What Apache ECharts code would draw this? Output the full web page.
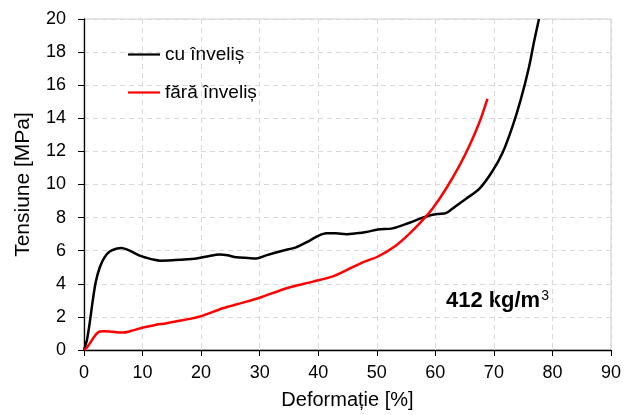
<!DOCTYPE html>
<html>
<head>
<meta charset="utf-8">
<script src="https://cdn.jsdelivr.net/npm/echarts@6/dist/echarts.min.js"></script>
<style>
  html, body { margin: 0; padding: 0; background: #fff; }
  #chart { width: 624px; height: 415px; }
</style>
</head>
<body>
<div id="chart"></div>
<script>
// Stress–strain curves, specimens of 412 kg/m³
const seriesNames = ['cu înveliș', 'fără înveliș'];

// [deformation %, stress MPa]
const cuInvelis = [
  [0, 0], [0.5, 0.6], [1, 1.7], [1.5, 3.0], [2, 4.1], [2.7, 5.0], [3.5, 5.6],
  [4.4, 5.95], [5.5, 6.12], [6.4, 6.17], [7.5, 6.05], [8.4, 5.9], [9.5, 5.7],
  [10.7, 5.57], [12, 5.45], [13, 5.4], [15, 5.42], [16.4, 5.45], [19.2, 5.53],
  [21, 5.65], [23.2, 5.77], [24.5, 5.72], [26, 5.6], [28, 5.56], [29.4, 5.53],
  [31.1, 5.72], [33.9, 6.0], [36.2, 6.2], [38.5, 6.6], [40, 6.9], [41.4, 7.05],
  [43, 7.05], [44.8, 7.0], [46.5, 7.05], [48.2, 7.13], [50.2, 7.28], [52.7, 7.35],
  [55.6, 7.69], [57.5, 7.95], [59, 8.13], [60.5, 8.22], [61.8, 8.27], [62.9, 8.53],
  [65.2, 9.13], [67.5, 9.73], [69.8, 10.83], [71.5, 11.93], [73.2, 13.53],
  [74.6, 15.14], [76, 17.1], [76.9, 18.7], [77.7, 20.0]
];

const faraInvelis = [
  [0, 0], [0.5, 0.15], [1, 0.4], [1.6, 0.72], [2.2, 1.0], [2.7, 1.12], [3.5, 1.14],
  [4.4, 1.12], [5.5, 1.07], [6.7, 1.05], [8, 1.15], [10.1, 1.36], [12, 1.5],
  [14.1, 1.62], [16, 1.75], [18.1, 1.88], [20.3, 2.08], [23.7, 2.52], [27, 2.85],
  [30, 3.16], [34.5, 3.72], [39.1, 4.13], [42.5, 4.45], [45, 4.85], [47.6, 5.3],
  [50.2, 5.65], [53.3, 6.32], [55.6, 7.03], [57.8, 7.83], [59.5, 8.53],
  [61.8, 9.73], [64.1, 11.13], [65.8, 12.33], [67.5, 13.73], [68.9, 15.18]
];

const xAxisRange = { min: 0, max: 90, interval: 10 };
const yAxisRange = { min: 0, max: 20, interval: 2 };
const densityLabel = '412 kg/m';

const font = 'Liberation Sans, Arial, sans-serif';
const chart = echarts.init(document.getElementById('chart'), null, { renderer: 'canvas' });

const gridLine = { show: true, lineStyle: { color: '#d9d9d9', type: [5, 4], width: 1 } };

chart.setOption({
  animation: false,
  backgroundColor: '#fff',
  textStyle: { fontFamily: font },
  grid: {
    left: 84, right: 12, top: 19, bottom: 63,
    show: true, borderColor: '#d0d0d0', borderWidth: 1, backgroundColor: 'transparent'
  },
  legend: {
    orient: 'vertical',
    left: 123, top: 40,
    icon: 'rect',
    itemWidth: 32, itemHeight: 2.2, itemGap: 19,
    data: seriesNames,
    textStyle: { fontFamily: font, fontSize: 19, color: '#000', lineHeight: 19 }
  },
  xAxis: {
    type: 'value',
    min: xAxisRange.min, max: xAxisRange.max, interval: xAxisRange.interval,
    name: 'Deformație [%]', nameLocation: 'middle', nameGap: 40,
    nameTextStyle: { fontFamily: font, fontSize: 20, color: '#000' },
    axisLine: { show: true, onZero: false, lineStyle: { color: '#000', width: 1.3 } },
    axisTick: { show: true, length: 6, lineStyle: { color: '#000' } },
    axisLabel: { margin: 14, fontSize: 18, color: '#000', fontFamily: font },
    splitLine: gridLine
  },
  yAxis: {
    type: 'value',
    min: yAxisRange.min, max: yAxisRange.max, interval: yAxisRange.interval,
    name: 'Tensiune [MPa]', nameLocation: 'middle', nameGap: 50,
    nameTextStyle: { fontFamily: font, fontSize: 21, color: '#000' },
    axisLine: { show: true, onZero: false, lineStyle: { color: '#000', width: 1.3 } },
    axisTick: { show: true, length: 6, lineStyle: { color: '#000' } },
    axisLabel: { margin: 18, fontSize: 18, color: '#000', fontFamily: font },
    splitLine: gridLine
  },
  series: [
    {
      name: seriesNames[0], type: 'line', data: cuInvelis,
      symbol: 'none', smooth: 0.3, clip: true,
      lineStyle: { color: '#000', width: 2.5 }, itemStyle: { color: '#000' }
    },
    {
      name: seriesNames[1], type: 'line', data: faraInvelis,
      symbol: 'none', smooth: 0.3, clip: true,
      lineStyle: { color: '#ff0000', width: 2.5 }, itemStyle: { color: '#ff0000' }
    }
  ],
  graphic: [
    {
      type: 'text', left: 446, top: 289,
      style: {
        text: '{a|' + densityLabel + '}{s|3}',
        rich: {
          a: { fontFamily: font, fontSize: 22, fontWeight: 'bold', fill: '#000' },
          s: { fontFamily: font, fontSize: 14, fill: '#000', padding: [0, 0, 10, 1] }
        }
      }
    }
  ]
});
</script>
</body>
</html>
